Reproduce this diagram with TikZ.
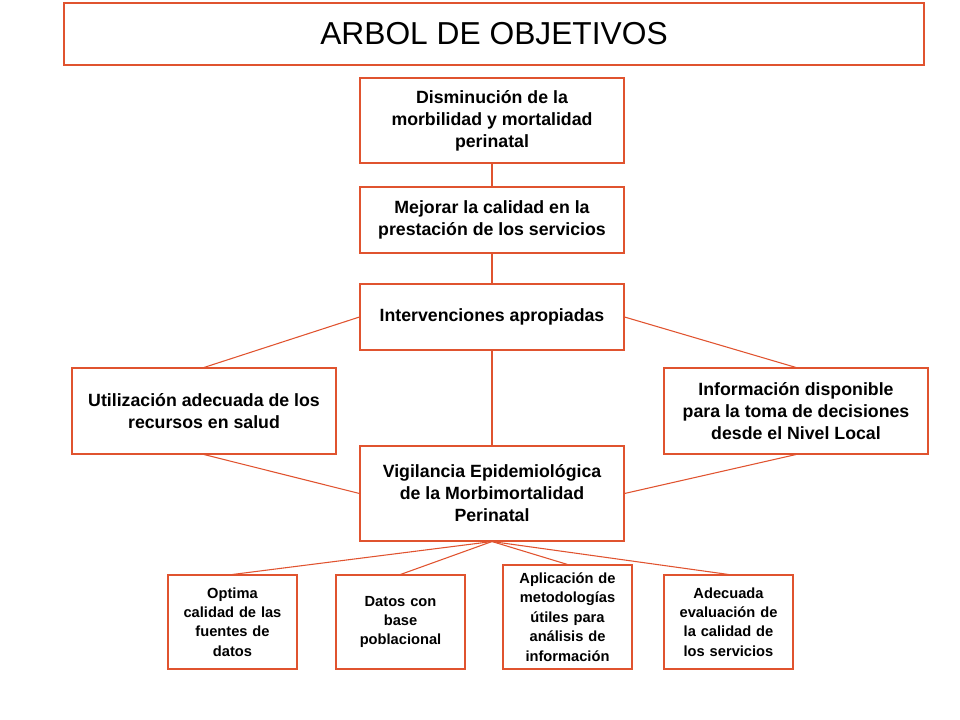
\documentclass[tikz,border=0pt]{standalone}
\usepackage{fontspec}
\setmainfont{Liberation Sans}
\begin{document}
\begin{tikzpicture}[x=0.75pt,y=-0.75pt,
  ln/.style={draw=orgc,line width=0.8pt},
  bx/.style={ln,fill=white,align=center,font=\bfseries\fontsize{13.3}{16.5}\selectfont,inner sep=0pt},
  sb/.style={ln,fill=white,align=center,font=\bfseries\fontsize{11}{14.6}\selectfont,inner sep=0pt,text width=94pt}]
\definecolor{orgc}{HTML}{E0532F}
\useasboundingbox (0,0) rectangle (960,720);
\def\bxat#1#2#3#4#5#6{\node[bx,minimum width={(#4-#2)*0.75pt},minimum height={(#5-#3)*0.75pt}] (#1) at ({(#2+#4)/2},{(#3+#5)/2}) {#6};}
\node[ln,minimum width=645pt,minimum height=46.5pt,font=\fontsize{23.8}{26}\selectfont] (t) at (494,34) {ARBOL DE OBJETIVOS};
\bxat{b1}{360}{78}{624}{163}{Disminución de la\\morbilidad y  mortalidad\\perinatal}
\bxat{b2}{360}{187}{624}{253}{Mejorar la calidad en la\\prestación de los servicios}
\bxat{b3}{360}{284}{624}{350}{Intervenciones apropiadas}
\bxat{l}{72}{368}{336}{454}{Utilización adecuada de los\\recursos en salud}
\bxat{r}{664}{368}{928}{454}{Información disponible\\para la toma de decisiones\\desde el Nivel Local}
\bxat{v}{360}{446}{624}{541}{Vigilancia Epidemiológica\\de la Morbimortalidad\\Perinatal}
\node[sb,minimum width=96.75pt,minimum height=70.5pt] (d1) at (232.5,622) {Optima\\calidad de las\\fuentes de\\datos};
\node[sb,minimum width=96.75pt,minimum height=70.5pt] (d2) at (400.5,622) {Datos con\\base\\poblacional};
\node[sb,minimum width=96.75pt,minimum height=78pt] (d3) at (567.5,617) {Aplicación de\\metodologías\\útiles para\\análisis de\\información};
\node[sb,minimum width=96.75pt,minimum height=70.5pt] (d4) at (728.5,622) {Adecuada\\evaluación de\\la calidad de\\los servicios};
\draw[ln] (b1.south)--(b2.north) (b2.south)--(b3.north) (b3.south)--(v.north);
\draw[ln] (b3.west)--(l.north) (b3.east)--(r.north) (l.south)--(v.west) (r.south)--(v.east);
\foreach \d in {d1,d2,d3,d4} \draw[ln] (v.south)--(\d.north);
\end{tikzpicture}
\end{document}
